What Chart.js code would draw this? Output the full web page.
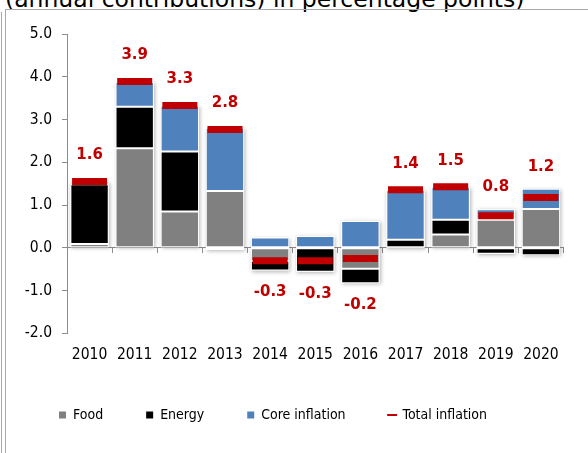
<!DOCTYPE html>
<html>
<head>
<meta charset="utf-8">
<script src="https://cdn.jsdelivr.net/npm/chart.js@4.4.1/dist/chart.umd.min.js"></script>
<style>
  body { margin: 0; background: #fff; }
  #wrap { position: relative; width: 588px; height: 453px; overflow: hidden; background: #fff; }
  #title { position: absolute; left: 5px; top: -15px; font-family: "DejaVu Sans"; font-size: 23.5px; color: #000; white-space: nowrap; }
  .frame { position: absolute; background: #a9a9a9; }
  canvas { position: absolute; left: 0; top: 0; }
</style>
</head>
<body>
<div id="wrap">
  <div id="title">(annual contributions) in percentage points)</div>
  <div class="frame" style="left:1px; top:12px; width:1px; height:441px;"></div>
  <div class="frame" style="left:5px; top:9px; width:1px; height:444px;"></div>
  <div class="frame" style="left:5px; top:9px; width:583px; height:1px;"></div>
  <canvas id="chart" width="588" height="453"></canvas>
</div>
<script>
// dados do gráfico
const years = ["2010", "2011", "2012", "2013", "2014", "2015", "2016", "2017", "2018", "2019", "2020"];
const food = [0.09, 2.33, 0.85, 1.33, -0.31, 0.0, -0.49, 0.0, 0.31, 0.66, 0.91];
const energy = [1.40, 0.97, 1.40, -0.05, -0.22, -0.56, -0.34, 0.19, 0.35, -0.14, -0.17];
const core = [0.06, 0.58, 1.07, 1.48, 0.24, 0.28, 0.63, 1.17, 0.77, 0.24, 0.47];
const total = [1.55, 3.89, 3.33, 2.77, -0.30, -0.30, -0.25, 1.36, 1.43, 0.75, 1.18];
const totalLabels = ["1.6", "3.9", "3.3", "2.8", "-0.3", "-0.3", "-0.2", "1.4", "1.5", "0.8", "1.2"];
const yTicks = [5, 4, 3, 2, 1, 0, -1, -2];

const RED = "#C00000";
const AXIS = "#8c8c8c";
const TICK_FONT = { family: "'DejaVu Sans Condensed', 'DejaVu Sans'", size: 15.5 };

// sombra clara atrás de cada coluna empilhada
const barShadow = {
  id: "barShadow",
  beforeDatasetsDraw(chart) {
    const ctx = chart.ctx;
    const metas = [0, 1, 2].map((i) => chart.getDatasetMeta(i));
    ctx.save();
    ctx.shadowColor = "rgba(0,0,0,0.3)";
    ctx.shadowBlur = 4;
    ctx.shadowOffsetX = 1;
    ctx.shadowOffsetY = 1;
    ctx.fillStyle = "#ffffff";
    years.forEach((yr, i) => {
      let top = Infinity, bottom = -Infinity, x = 0, w = 0;
      metas.forEach((m) => {
        const el = m.data[i];
        top = Math.min(top, el.y, el.base);
        bottom = Math.max(bottom, el.y, el.base);
        x = el.x;
        w = el.width;
      });
      ctx.fillRect(x - w / 2, top, w, bottom - top);
    });
    ctx.restore();
  },
};

// rótulos vermelhos da inflação total
const totalText = {
  id: "totalText",
  afterDatasetsDraw(chart) {
    const { ctx } = chart;
    const y = chart.scales.y;
    const meta = chart.getDatasetMeta(0);
    ctx.save();
    ctx.font = "bold 15px 'DejaVu Sans'";
    ctx.fillStyle = RED;
    ctx.textAlign = "center";
    ctx.textBaseline = "middle";
    years.forEach((yr, i) => {
      let pos = 0, neg = 0;
      [food, energy, core].forEach((s) => {
        if (s[i] > 0) pos += s[i];
        else neg += s[i];
      });
      const x = meta.data[i].x;
      if (total[i] >= 0) {
        const top = Math.min(y.getPixelForValue(pos), y.getPixelForValue(total[i]) - 4);
        ctx.fillText(totalLabels[i], x, top - 22);
      } else {
        const bot = Math.max(y.getPixelForValue(neg), y.getPixelForValue(total[i]) + 4);
        ctx.fillText(totalLabels[i], x, bot + 22);
      }
    });
    ctx.restore();
  },
};

const barCommon = {
  type: "bar",
  stack: "bars",
  borderColor: "#ffffff",
  borderWidth: 1,
  borderSkipped: false,
  barPercentage: 0.85,
  categoryPercentage: 1.0,
};

new Chart(document.getElementById("chart"), {
  data: {
    labels: years,
    datasets: [
      { ...barCommon, label: "Food", data: food, backgroundColor: "#808080" },
      { ...barCommon, label: "Energy", data: energy, backgroundColor: "#000000" },
      { ...barCommon, label: "Core inflation", data: core, backgroundColor: "#4F81BD" },
      {
        type: "line",
        label: "Total inflation",
        data: total,
        stack: "total",
        order: -1,
        showLine: false,
        borderColor: RED,
        borderWidth: 2,
        pointStyle: "line",
        pointRadius: 17.5,
        pointHoverRadius: 17.5,
        pointBorderWidth: 7,
        pointBorderColor: RED,
        pointBackgroundColor: RED,
      },
    ],
  },
  options: {
    responsive: false,
    animation: false,
    events: [],
    layout: { padding: { left: 16, right: 4, top: 34, bottom: 21 } },
    scales: {
      x: {
        stacked: true,
        afterFit: (s) => { s.height = 31.6; },
        grid: { display: false },
        border: { display: false },
        ticks: { color: "#000", font: TICK_FONT, padding: 4, maxRotation: 0 },
      },
      x2: {
        type: "category",
        position: { y: 0 },
        offset: true,
        grid: { offset: true, drawOnChartArea: false, tickLength: 5, color: AXIS },
        border: { color: AXIS },
        ticks: { display: false },
      },
      y: {
        stacked: true,
        min: -2,
        max: 5,
        afterFit: (s) => { s.width = 51; },
        afterBuildTicks: (s) => { s.ticks = yTicks.map((v) => ({ value: v })); },
        grid: { drawOnChartArea: false, tickLength: 5, color: AXIS },
        border: { color: AXIS },
        ticks: {
          color: "#000",
          font: TICK_FONT,
          padding: 10,
          callback: (v) => Number(v).toFixed(1),
        },
      },
    },
    plugins: {
      tooltip: { enabled: false },
      legend: {
        position: "bottom",
        align: "start",
        labels: {
          usePointStyle: true,
          boxWidth: 7,
          boxHeight: 7,
          padding: 43,
          color: "#000",
          font: { family: "'DejaVu Sans Condensed', 'DejaVu Sans'", size: 14 },
          sort: (a, b) => a.datasetIndex - b.datasetIndex,
          generateLabels(chart) {
            const items = Chart.defaults.plugins.legend.labels.generateLabels(chart);
            items.forEach((it) => {
              if (it.datasetIndex === 3) {
                it.pointStyle = "line";
                it.lineWidth = 2;
                it.strokeStyle = RED;
              } else {
                it.pointStyle = "rect";
                it.lineWidth = 0;
              }
            });
            return items;
          },
        },
      },
    },
  },
  plugins: [barShadow, totalText],
});
</script>
</body>
</html>
